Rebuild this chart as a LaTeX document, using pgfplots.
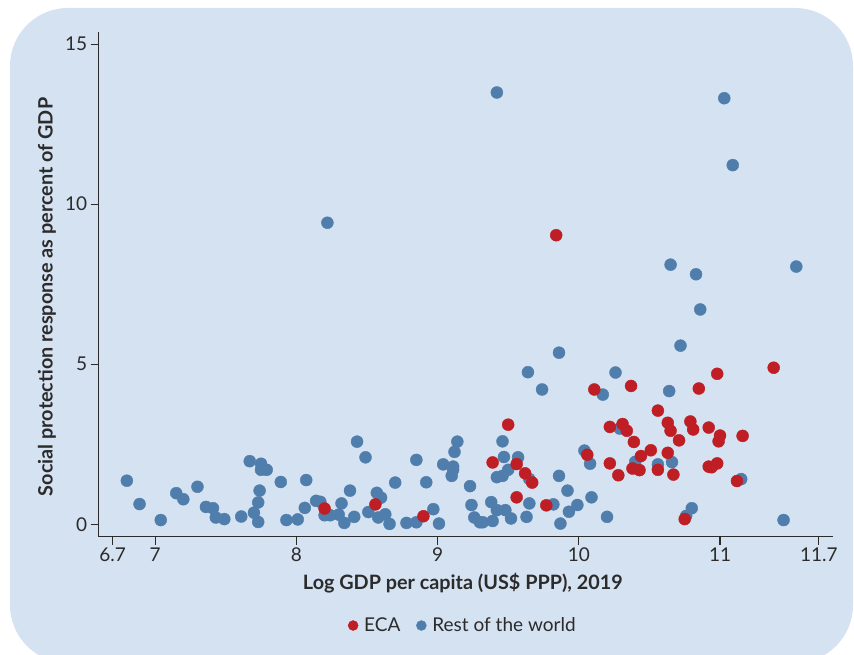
\documentclass[border=0pt]{standalone}
\usepackage{fontspec}
\setmainfont{Lato}
\usepackage{pgfplots}
\pgfplotsset{compat=1.18}

\definecolor{bgblue}{HTML}{D5E2F1}
\definecolor{ecared}{HTML}{BE1E24}
\definecolor{rowblue}{HTML}{4F7EAC}
\definecolor{txt}{HTML}{2B2B2B}

\begin{document}
\begin{tikzpicture}
\fill[white] (0pt,0pt) rectangle (854pt,655pt);
\begin{scope}
  \clip (0pt,0pt) rectangle (854pt,655pt);
  \fill[bgblue, rounded corners=58pt] (10pt,-8pt) rectangle (853pt,647pt);
\end{scope}
\useasboundingbox (0pt,0pt) rectangle (854pt,655pt);
\begin{axis}[
    at={(98.6pt,118.3pt)}, anchor=south west,
    scale only axis, width=734.4pt, height=504.7pt,
    xmin=6.6, xmax=11.8, ymin=-0.39, ymax=15.38,
    axis x line*=bottom, axis y line*=left,
    axis line style={draw=txt, line width=1.3pt, -},
    xtick={6.7,7,8,9,10,11,11.7},
    xticklabels={6.7,7,8,9,10,11,11.7},
    ytick={0,5,10,15},
    tick align=outside, major tick length=8pt,
    tick style={draw=txt, line width=1.1pt},
    /pgf/number format/assume math mode=true,
    tick label style={font=\fontsize{19}{21}\selectfont, text=txt},
    xlabel={Log GDP per capita (US\$ PPP), 2019},
    ylabel={Social protection response as percent of GDP},
    label style={font=\fontsize{19.8}{22}\selectfont\bfseries, text=txt},
    xlabel style={at={(axis description cs:0.496,-0.092)}, anchor=center},
    ylabel style={at={(axis description cs:-0.0703,0.475)}, anchor=center},
    legend style={at={(axis description cs:0.496,-0.176)}, anchor=center,
      draw=none, fill=none, legend columns=2,
      font=\fontsize{19}{21}\selectfont, text=txt,
      /tikz/every odd column/.append style={column sep=4pt},
      /tikz/every even column/.append style={column sep=14pt}},
    legend cell align=left,
    clip=false,
]
\addlegendimage{only marks, mark=*, mark size=5pt, color=ecared}
\addlegendentry{ECA}
\addlegendimage{only marks, mark=*, mark size=5pt, color=rowblue}
\addlegendentry{Rest of the world}

% Rest of the world
\addplot[only marks, mark=*, mark size=6pt, color=rowblue, forget plot] coordinates {
(6.80,1.36) (6.89,0.63) (7.04,0.13) (7.15,0.97) (7.20,0.78) (7.30,1.17)
(7.36,0.54) (7.41,0.50) (7.43,0.21) (7.49,0.16) (7.61,0.24) (7.67,1.97)
(7.75,1.89) (7.75,1.70) (7.79,1.70) (7.74,1.05) (7.73,0.68) (7.70,0.36)
(7.73,0.07) (7.89,1.32) (8.07,1.38) (7.93,0.13) (8.01,0.15) (8.06,0.51)
(8.14,0.73) (8.17,0.70) (8.20,0.28) (8.24,0.28) (8.30,0.30) (8.34,0.04)
(8.41,0.23) (8.51,0.38) (8.58,0.21) (8.63,0.31) (8.66,0.01) (8.32,0.65)
(8.38,1.05) (8.57,0.98) (8.60,0.83) (8.70,1.30) (8.92,1.31) (8.97,0.47)
(8.78,0.04) (8.85,0.06) (9.01,0.02) (8.43,2.58) (8.49,2.09) (8.85,2.01)
(9.04,1.87) (9.11,1.80) (9.11,1.70) (9.10,1.51) (9.12,2.26) (9.14,2.58)
(9.23,1.19) (9.24,0.60) (9.26,0.21) (9.30,0.06) (9.32,0.06) (9.39,0.10)
(9.38,0.69) (9.42,0.44) (9.48,0.44) (9.52,0.18) (9.63,0.23) (9.65,0.65)
(9.42,1.47) (9.46,1.51) (9.50,1.70) (9.65,1.41) (9.46,2.59) (9.47,2.10)
(9.57,2.09) (9.82,0.62) (9.86,1.51) (9.87,0.02) (9.93,0.39) (9.92,1.05)
(9.99,0.60) (10.09,0.84) (10.20,0.23) (10.04,2.30) (10.08,1.89) (10.29,2.99)
(10.40,1.95) (10.56,1.87) (10.66,1.94) (11.15,1.41) (10.80,0.50) (10.76,0.26)
(11.45,0.13) (9.64,4.75) (9.74,4.21) (9.86,5.36) (10.17,4.05) (10.26,4.74)
(10.64,4.16) (10.72,5.58) (10.86,6.71) (10.65,8.11) (10.83,7.81) (11.54,8.05)
(11.09,11.22) (11.03,13.31) (9.42,13.49) (8.22,9.42)
};

% ECA
\addplot[only marks, mark=*, mark size=6pt, color=ecared, forget plot] coordinates {
(8.20,0.49) (8.56,0.62) (8.90,0.25) (9.39,1.93) (9.50,3.11) (9.56,1.88)
(9.62,1.59) (9.67,1.30) (9.56,0.84) (9.77,0.59) (9.84,9.03) (10.06,2.17)
(10.11,4.21) (10.37,4.32) (10.85,4.24) (10.98,4.70) (11.38,4.89) (10.56,3.55)
(10.22,3.04) (10.31,3.13) (10.34,2.92) (10.63,3.17) (10.65,2.92) (10.79,3.21)
(10.81,2.96) (10.92,3.02) (11.00,2.77) (10.99,2.59) (11.16,2.76) (10.39,2.57)
(10.71,2.62) (10.51,2.31) (10.44,2.13) (10.63,2.23) (10.38,1.74) (10.43,1.69)
(10.56,1.70) (10.22,1.90) (10.28,1.53) (10.67,1.55) (10.92,1.80) (10.94,1.78)
(10.98,1.90) (11.12,1.35) (10.75,0.16)
};
\end{axis}
\end{tikzpicture}
\end{document}
